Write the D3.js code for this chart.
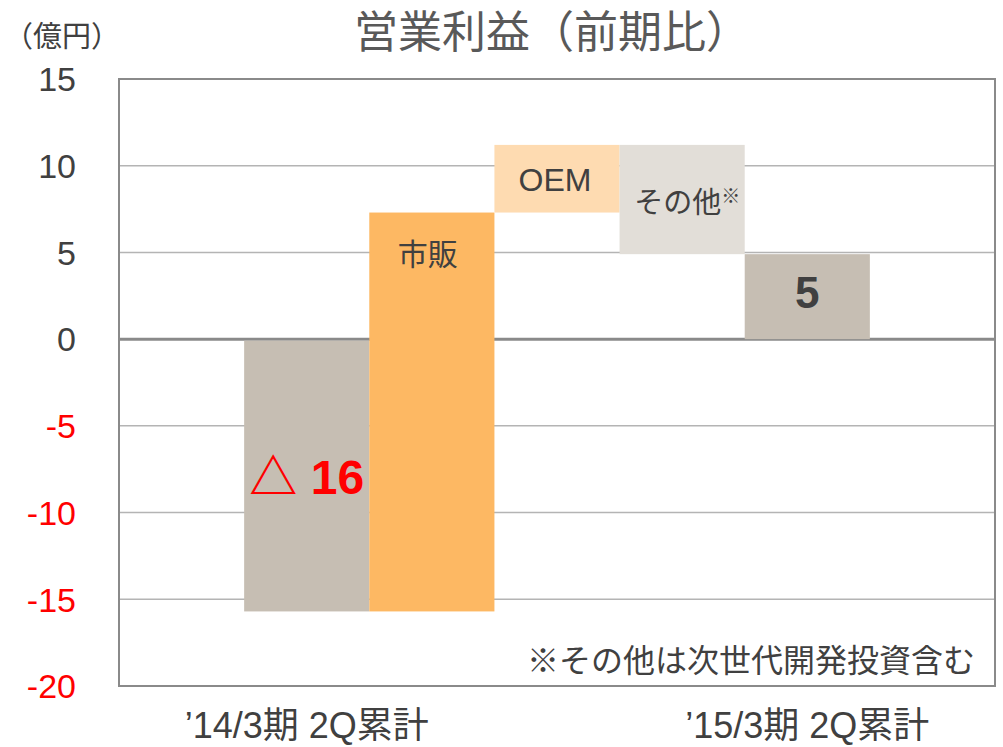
<!DOCTYPE html>
<html>
<head>
<meta charset="utf-8">
<script src="https://cdn.jsdelivr.net/npm/d3@7"></script>
<style>
  body { margin: 0; background: #fff; }
  svg text { font-family: "Liberation Sans", Arial, "Noto Sans CJK JP", sans-serif; }
</style>
</head>
<body>
<div id="chart"></div>
<script>
// waterfall data (億円)
const categories = ["’14/3期 2Q累計", "市販", "OEM", "その他", "’15/3期 2Q累計"];
const changes = [-15.7, 23.0, 3.9, -6.3, 4.9];
const kinds = ["total", "step", "step", "step", "total"];
const barLabels = ["△ 16", "市販", "OEM", "その他", "5"];
const yTicks = [15, 10, 5, 0, -5, -10, -15, -20];

const W = 1003, H = 747;
const margin = {top: 79, right: 8, bottom: 61, left: 119};

const svg = d3.select('#chart').append('svg')
    .attr('width', W)
    .attr('height', H);

const x = d3.scaleBand()
    .domain(categories)
    .range([margin.left, W - margin.right])
    .paddingInner(0)
    .paddingOuter(1);

const y = d3.scaleLinear()
    .domain([-20, 15])
    .range([H - margin.bottom, margin.top]);

// build waterfall segments
let running = 0;
const bars = categories.map((c, i) => {
  let y0, y1;
  if (kinds[i] === 'total') {
    y0 = 0; y1 = changes[i];
    running = changes[i];
  } else {
    y0 = running; y1 = running + changes[i];
    running = y1;
  }
  return {cat: c, y0, y1, label: barLabels[i], i};
});

const colors = ['#c6beb3', '#fdb863', '#fedbb1', '#e2ded8', '#c6beb3'];

// gridlines
svg.append('g')
  .selectAll('line')
  .data(yTicks.filter(d => d !== 0 && d !== 15 && d !== -20))
  .join('line')
    .attr('x1', margin.left)
    .attr('x2', W - margin.right)
    .attr('y1', d => y(d))
    .attr('y2', d => y(d))
    .attr('stroke', '#b4b4b4')
    .attr('stroke-width', 1.5);

// zero line
svg.append('line')
    .attr('x1', margin.left)
    .attr('x2', W - margin.right)
    .attr('y1', y(0))
    .attr('y2', y(0))
    .attr('stroke', '#8a8a8a')
    .attr('stroke-width', 3);

// bars
svg.append('g')
  .selectAll('rect')
  .data(bars)
  .join('rect')
    .attr('x', d => x(d.cat))
    .attr('width', x.bandwidth())
    .attr('y', d => d.i === 0 ? y(0) + 1.5 : y(Math.max(d.y0, d.y1)))
    .attr('height', d => d.i === 0 ? y(Math.min(d.y0, d.y1)) - y(0) - 1.5 : Math.abs(y(d.y0) - y(d.y1)))
    .attr('fill', (d, i) => colors[i]);

// frame
svg.append('rect')
    .attr('x', margin.left)
    .attr('y', margin.top)
    .attr('width', W - margin.right - margin.left)
    .attr('height', H - margin.bottom - margin.top)
    .attr('fill', 'none')
    .attr('stroke', '#8a8a8a')
    .attr('stroke-width', 2);

// y tick labels
svg.append('g')
  .selectAll('text')
  .data(yTicks)
  .join('text')
    .attr('x', 76)
    .attr('y', d => y(d))
    .attr('dy', '0.36em')
    .attr('text-anchor', 'end')
    .attr('font-size', 34)
    .attr('fill', d => d < 0 ? '#ff0000' : '#404040')
    .text(d => d);

// units
svg.append('text')
    .attr('x', 4)
    .attr('y', 47)
    .attr('font-size', 29)
    .attr('fill', '#404040')
    .text('（億円）');

// title
svg.append('text')
    .attr('x', 552)
    .attr('y', 48)
    .attr('text-anchor', 'middle')
    .attr('font-size', 44)
    .attr('fill', '#595959')
    .text('営業利益（前期比）');

// x labels (totals only)
svg.append('g')
  .selectAll('text')
  .data(bars.filter(d => kinds[d.i] === 'total'))
  .join('text')
    .attr('x', d => x(d.cat) + x.bandwidth() / 2)
    .attr('y', 738)
    .attr('text-anchor', 'middle')
    .attr('font-size', 36)
    .attr('fill', '#404040')
    .text(d => d.cat);

// bar labels
const cx = d => x(d.cat) + x.bandwidth() / 2;
const start = bars[0], retail = bars[1], oem = bars[2], other = bars[3], end = bars[4];

svg.append('text')
    .attr('x', cx(start))
    .attr('y', y(-8.93))
    .attr('text-anchor', 'middle')
    .attr('font-size', 48)
    .attr('font-weight', 'bold')
    .attr('fill', '#ff0000')
    .text(start.label);

svg.append('text')
    .attr('x', cx(retail) - 4)
    .attr('y', y(4.27))
    .attr('text-anchor', 'middle')
    .attr('font-size', 30)
    .attr('fill', '#404040')
    .text(retail.label);

svg.append('text')
    .attr('x', cx(oem) - 2)
    .attr('y', y(8.53))
    .attr('text-anchor', 'middle')
    .attr('font-size', 32)
    .attr('fill', '#404040')
    .text(oem.label);

const otherText = svg.append('text')
    .attr('x', cx(other) + 5)
    .attr('y', y(7.3))
    .attr('text-anchor', 'middle')
    .attr('font-size', 29)
    .attr('fill', '#404040');
otherText.append('tspan').text(other.label);
otherText.append('tspan')
    .attr('font-size', 19)
    .attr('dy', -10)
    .text('※');

svg.append('text')
    .attr('x', cx(end))
    .attr('y', y(1.8))
    .attr('text-anchor', 'middle')
    .attr('font-size', 44)
    .attr('font-weight', 'bold')
    .attr('fill', '#404040')
    .text(end.label);

// footnote
svg.append('text')
    .attr('x', 975)
    .attr('y', 672)
    .attr('text-anchor', 'end')
    .attr('font-size', 32)
    .attr('fill', '#404040')
    .text('※その他は次世代開発投資含む');
</script>
</body>
</html>
